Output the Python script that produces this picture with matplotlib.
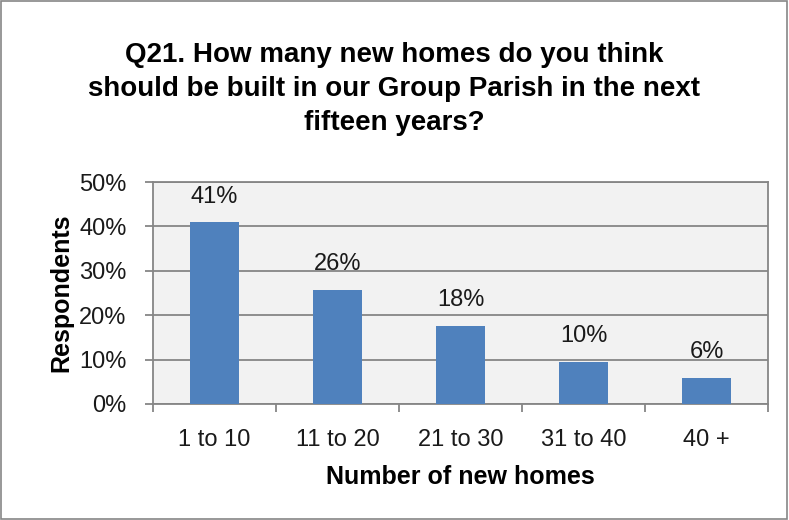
import numpy as np
import matplotlib.pyplot as plt
from matplotlib.patches import Rectangle

plt.rcParams['font.family'] = ['Liberation Sans', 'DejaVu Sans']

categories = ['1 to 10', '11 to 20', '21 to 30', '31 to 40', '40 +']
values = [41.0, 25.7, 17.6, 9.5, 5.9]
labels = ['41%', '26%', '18%', '10%', '6%']

grey = '#868686'

fig = plt.figure(figsize=(7.89, 5.2), dpi=100)
ax = fig.add_axes([153 / 789, 1 - 404 / 520, 615 / 789, 222 / 520])
ax.set_facecolor('#f2f2f2')

x = np.arange(len(categories))
ax.bar(x, values, width=0.4, color='#4f81bd', zorder=3)
for xi, v, lab in zip(x, values, labels):
    ax.annotate(lab, (xi, v), xytext=(0, 14), textcoords='offset points',
                ha='center', va='baseline', fontsize=17, color='#1a1a1a')

ax.set_xlim(-0.5, len(categories) - 0.5)
ax.set_ylim(0, 50)
ax.set_yticks(np.arange(0, 51, 10))
ax.set_yticklabels([f'{t}%' for t in range(0, 51, 10)], fontsize=17, color='#1a1a1a')
ax.yaxis.grid(True, color=grey, lw=1.3, zorder=0)
ax.set_xticks(x)
ax.set_xticklabels(categories, fontsize=17, color='#1a1a1a')
ax.set_xticks(np.arange(-0.5, len(categories)), minor=True)
ax.tick_params(axis='x', which='major', length=0, pad=18)
ax.tick_params(axis='x', which='minor', length=6, color=grey, width=1.3)
ax.tick_params(axis='y', length=6, color=grey, width=1.3, pad=13)
for s in ax.spines.values():
    s.set_color(grey)
    s.set_linewidth(1.3)

ax.set_xlabel('Number of new homes', fontsize=18, fontweight='bold', labelpad=10)
ax.set_ylabel('Respondents', fontsize=18, fontweight='bold', labelpad=4)

fig.text(0.5, 1 - 89 / 520, 'Q21. How many new homes do you think\nshould be built in our Group Parish in the next\nfifteen years?',
         ha='center', va='center', fontsize=20, fontweight='bold', linespacing=1.4)

fig.patches.append(Rectangle((0.001, 0.001), 0.997, 0.997, transform=fig.transFigure,
                             fill=False, edgecolor=grey, lw=1.2))

fig.savefig('out.png', dpi=100)
